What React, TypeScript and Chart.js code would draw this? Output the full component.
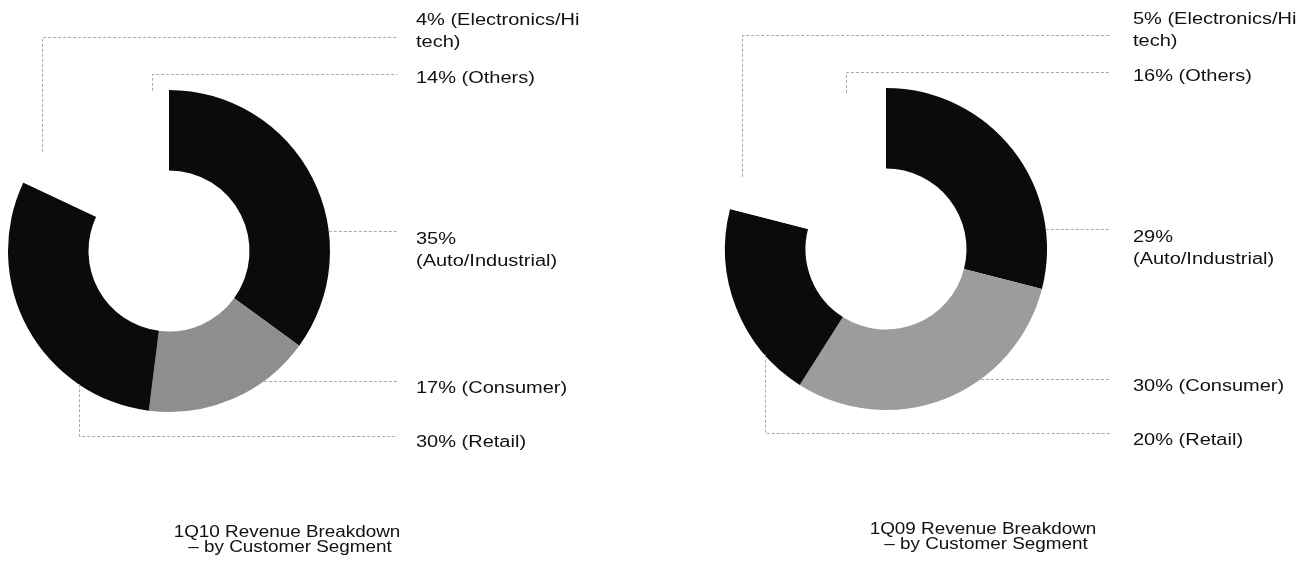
import { useEffect, useRef } from 'react';
import { Chart, ArcElement, DoughnutController } from 'chart.js';

Chart.register(ArcElement, DoughnutController);

// Customer segments, in clockwise order from 12 o'clock
const segments = ['Auto/Industrial', 'Consumer', 'Retail', 'Electronics/Hi tech', 'Others'];
const share1Q10 = [35, 17, 30, 4, 14];
const share1Q09 = [29, 30, 20, 5, 16];
const title1Q10 = ['1Q10 Revenue Breakdown', '– by Customer Segment'];
const title1Q09 = ['1Q09 Revenue Breakdown', '– by Customer Segment'];

const INK = '#111111';
const DARK = '#0b0b0b';
const LEADER = '#a8a8a8';
const LABEL_STRETCH = 1.25;
const TITLE_STRETCH = 1.18;
const LABEL_FONT = '16px "Liberation Sans", Arial, sans-serif';
const TITLE_FONT = '16px "Liberation Sans", Arial, sans-serif';

type Leader = { route: 'h' | 'v'; lineY: number; frac?: number; textY: number };

type PanelSpec = {
  values: number[];
  title: string[];
  greyFill: string;
  left: number;
  padding: { left: number; top: number; right: number; bottom: number };
  leaders: Leader[];
  lineEndX: number;
  textX: number;
  titleX: number;
  titleY: number;
};

function stretchedText(
  ctx: CanvasRenderingContext2D,
  text: string,
  x: number,
  y: number,
  align: CanvasTextAlign,
  stretch: number
) {
  ctx.save();
  ctx.translate(x, y);
  ctx.scale(stretch, 1);
  ctx.textAlign = align;
  ctx.textBaseline = 'alphabetic';
  ctx.fillText(text, 0, 0);
  ctx.restore();
}

function wrapLabel(ctx: CanvasRenderingContext2D, text: string, maxWidth: number): string[] {
  const words = text.split(' ');
  const lines: string[] = [];
  let current = '';
  for (const w of words) {
    const trial = current ? current + ' ' + w : w;
    if (current && ctx.measureText(trial).width * LABEL_STRETCH > maxWidth) {
      lines.push(current);
      current = w;
    } else {
      current = trial;
    }
  }
  if (current) lines.push(current);
  return lines;
}

function makeCallouts(spec: PanelSpec) {
  return {
    id: 'callouts',
    afterDraw(chart: Chart) {
      const ctx = chart.ctx;
      const meta = chart.getDatasetMeta(0);
      const values = chart.data.datasets[0].data as number[];
      ctx.save();

      // dotted leader lines from each slice's rim to its label
      ctx.strokeStyle = LEADER;
      ctx.lineWidth = 1;
      ctx.setLineDash([3, 2]);
      meta.data.forEach((el: any, i: number) => {
        const { x, y, outerRadius, startAngle, endAngle } = el.getProps(
          ['x', 'y', 'outerRadius', 'startAngle', 'endAngle'],
          true
        );
        const ld = spec.leaders[i];
        const lineY = Math.round(ld.lineY) + 0.5;
        ctx.beginPath();
        if (ld.route === 'h') {
          const dy = ld.lineY - y;
          const ax = x + Math.sqrt(Math.max(outerRadius * outerRadius - dy * dy, 0));
          ctx.moveTo(ax, lineY);
          ctx.lineTo(spec.lineEndX, lineY);
        } else {
          const a = startAngle + (ld.frac ?? 0.5) * (endAngle - startAngle);
          const ax = Math.round(x + outerRadius * Math.cos(a)) + 0.5;
          const ay = y + outerRadius * Math.sin(a);
          ctx.moveTo(ax, ay);
          ctx.lineTo(ax, lineY);
          ctx.lineTo(spec.lineEndX, lineY);
        }
        ctx.stroke();
      });
      ctx.setLineDash([]);

      // segment labels
      ctx.fillStyle = INK;
      ctx.font = LABEL_FONT;
      values.forEach((v, i) => {
        const lines = wrapLabel(ctx, `${v}% (${segments[i]})`, 170);
        lines.forEach((line, k) => {
          stretchedText(ctx, line, spec.textX, spec.leaders[i].textY + k * 22, 'left', LABEL_STRETCH);
        });
      });

      // chart title
      ctx.font = TITLE_FONT;
      spec.title.forEach((line, k) => {
        stretchedText(ctx, line, spec.titleX + k * 3, spec.titleY + k * 15, 'center', TITLE_STRETCH);
      });
      ctx.restore();
    },
  };
}

function DonutPanel({ spec }: { spec: PanelSpec }) {
  const ref = useRef<HTMLCanvasElement>(null);
  useEffect(() => {
    if (!ref.current) return;
    const chart = new Chart(ref.current, {
      type: 'doughnut',
      data: {
        labels: segments,
        datasets: [
          {
            data: spec.values,
            backgroundColor: [DARK, spec.greyFill, DARK, '#ffffff', '#ffffff'],
            borderWidth: 0,
            hoverBorderWidth: 0,
            hoverOffset: 0,
          },
        ],
      },
      options: {
        responsive: false,
        maintainAspectRatio: false,
        animation: false,
        cutout: '50%',
        rotation: 0,
        circumference: 360,
        layout: { padding: spec.padding },
        events: [],
        plugins: {
          legend: { display: false },
          tooltip: { enabled: false },
        },
      },
      plugins: [makeCallouts(spec)],
    });
    return () => chart.destroy();
  }, [spec]);
  return (
    <canvas
      ref={ref}
      width={652}
      height={565}
      style={{ position: 'absolute', left: spec.left, top: 0 }}
    />
  );
}

const panel1Q10: PanelSpec = {
  values: share1Q10,
  title: title1Q10,
  greyFill: '#8e8e8e',
  left: 0,
  padding: { left: 8, top: 90, right: 322, bottom: 153 },
  leaders: [
    { route: 'h', lineY: 231, textY: 244 },
    { route: 'h', lineY: 381, textY: 393 },
    { route: 'v', frac: 0.25, lineY: 436, textY: 447 },
    { route: 'v', frac: 0.89, lineY: 37, textY: 25 },
    { route: 'v', frac: 0.88, lineY: 74, textY: 83 },
  ],
  lineEndX: 397,
  textX: 416,
  titleX: 287,
  titleY: 537,
};

const panel1Q09: PanelSpec = {
  values: share1Q09,
  title: title1Q09,
  greyFill: '#9c9c9c',
  left: 652,
  padding: { left: 73, top: 88, right: 257, bottom: 155 },
  leaders: [
    { route: 'h', lineY: 229, textY: 242 },
    { route: 'h', lineY: 379, textY: 391 },
    { route: 'v', frac: 0.23, lineY: 433, textY: 445 },
    { route: 'v', frac: 0.68, lineY: 35, textY: 24 },
    { route: 'v', frac: 0.75, lineY: 72, textY: 81 },
  ],
  lineEndX: 458,
  textX: 481,
  titleX: 331,
  titleY: 534,
};

export default function App() {
  return (
    <div
      style={{
        position: 'fixed',
        left: 0,
        top: 0,
        width: 1304,
        height: 565,
        background: '#ffffff',
        overflow: 'hidden',
      }}
    >
      <DonutPanel spec={panel1Q10} />
      <DonutPanel spec={panel1Q09} />
    </div>
  );
}
